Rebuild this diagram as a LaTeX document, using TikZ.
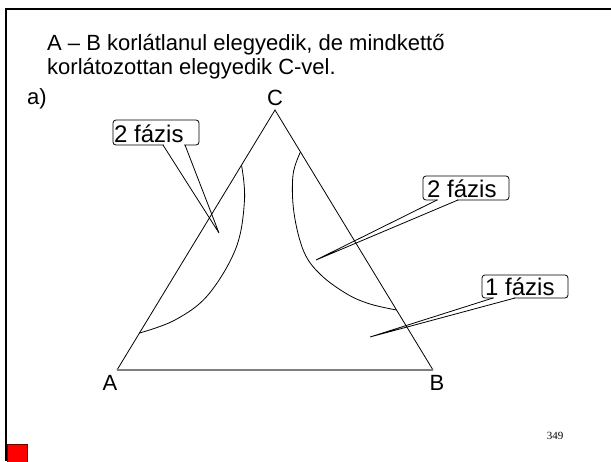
\documentclass[tikz,border=0pt]{standalone}
\usepackage{fontspec}
\setmainfont{Liberation Sans}
\newfontfamily\serifnum{Liberation Serif}
\begin{document}
\begin{tikzpicture}[x=1pt,y=-1pt,
  thin line/.style={line width=0.8pt,black},
  lbl/.style={inner sep=0pt,font=\fontsize{22}{26}\selectfont},
  cbox/.style={draw,line width=0.8pt,rounded corners=3pt,fill=white},
  ctext/.style={inner sep=0pt,anchor=base west,font=\fontsize{24}{26}\selectfont}]
\useasboundingbox[fill=white] (0,0) rectangle (611,461);
% frame
\draw[line width=2.6pt] (611,9) -- (6,9) -- (6,461);
\draw[fill=red,draw=red!45!black,line width=0.8pt] (7,444) rectangle (27,463);
% texts
\node[lbl,anchor=base west] (t1) at (47,50) {A – B korlátlanul elegyedik, de mindkettő};
\node[lbl,anchor=base west] (t2) at (47,74) {korlátozottan elegyedik C-vel.};
\node[lbl,anchor=base west] (ta) at (27,104) {a)};
\node[inner sep=0pt,anchor=center,font=\serifnum\fontsize{11}{12}\selectfont] (pg) at (555,436) {349};
% triangle
\coordinate (A) at (117,370);
\coordinate (B) at (433,370);
\coordinate (C) at (275,110);
\node[lbl,anchor=base] (lC) at (275,105) {C};
\node[lbl,anchor=base] (lA) at (110,390) {A};
\node[lbl,anchor=base] (lB) at (437,390) {B};
\draw[thin line] (A) -- (C) -- (B);
\draw[line width=2pt,gray] (A) -- (B);
% binodal curves
\draw[thin line] plot[smooth,tension=0.6] coordinates {(241.5,165) (244.5,200) (236,248) (208,295) (175,320) (139.5,333)};
\draw[thin line] plot[smooth,tension=0.6] coordinates {(300.5,152) (293,175) (294,213) (304,252) (321,275) (347,294) (370,304) (396.5,310)};
% callout 1 (left)
\coordinate (tipL) at (219,233);
\draw[cbox] (113,120) rectangle (199,145);
\fill[white] (164,143.5) rectangle (184,146.5);
\draw[thin line,line join=miter] (163,145) -- (tipL) -- (185,145);
\node[ctext] (cL) at (114,142) {2 fázis};
% callout 2 (right)
\coordinate (tipR) at (316,260);
\draw[cbox] (423,176) rectangle (509,200);
\fill[white] (438,198.5) rectangle (457,201.5);
\draw[thin line,line join=miter] (437,200) -- (tipR) -- (458,200);
\node[ctext] (cR) at (427,197) {2 fázis};
% callout 3 (one phase)
\coordinate (tipO) at (370,337);
\draw[cbox] (482,275) rectangle (568,298);
\fill[white] (494,296.5) rectangle (514,299.5);
\draw[thin line,line join=miter] (493,298) -- (tipO) -- (515,298);
\node[ctext] (cO) at (485,295) {1 fázis};
\end{tikzpicture}
\end{document}
